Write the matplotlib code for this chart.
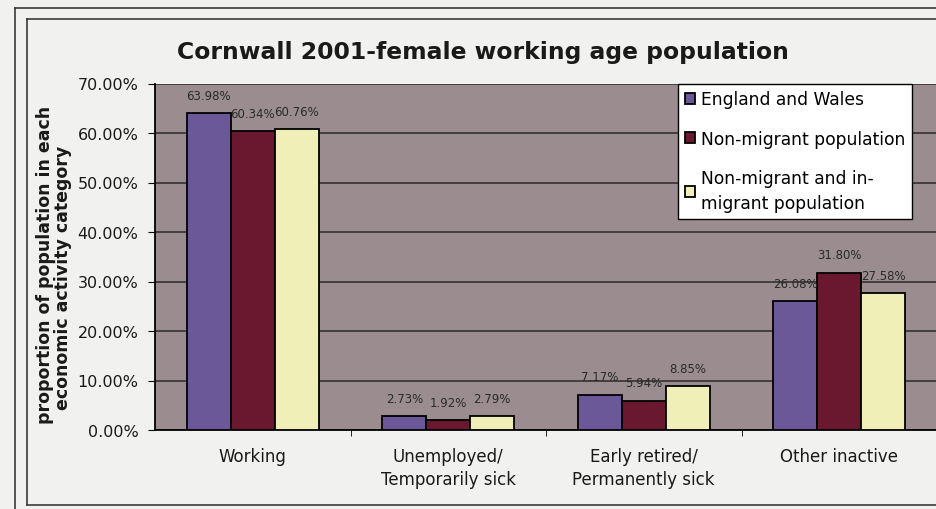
import numpy as np
import matplotlib.pyplot as plt
from matplotlib.lines import Line2D

plt.rcParams['font.family'] = ['DejaVu Sans']

categories = ['Working', 'Unemployed/\nTemporarily sick',
              'Early retired/\nPermanently sick', 'Other inactive']
series_names = ['England and Wales', 'Non-migrant population',
                'Non-migrant and in-\nmigrant population']
england_wales = [63.98, 2.73, 7.17, 26.08]
non_migrant = [60.34, 1.92, 5.94, 31.80]
non_migrant_in_migrant = [60.76, 2.79, 8.85, 27.58]
y_ticks = [0, 10, 20, 30, 40, 50, 60, 70]

colors = ['#6b5898', '#6a182f', '#f0efb8']
series = [england_wales, non_migrant, non_migrant_in_migrant]

fig = plt.figure(figsize=(9.37, 5.10), dpi=100, facecolor='#f1f1ef')
ax = fig.add_axes([155 / 937, 79 / 510, 782 / 937, 346.5 / 510])
ax.set_facecolor('#9a8c8f')

x = np.arange(len(categories))
width = 0.225
for i, (vals, name, col) in enumerate(zip(series, series_names, colors)):
    pos = x + (i - 1) * width
    bars = ax.bar(pos, vals, width, color=col, edgecolor='black', linewidth=1.3,
                  label=name, zorder=3)
    for b, v in zip(bars, vals):
        ax.annotate(f'{v:.2f}%', (b.get_x() + b.get_width() / 2, v),
                    xytext=(0, 8), textcoords='offset points',
                    ha='center', va='bottom', fontsize=8.5, color='#2a2a2a', zorder=4)

ax.set_ylim(0, 70)
ax.set_xlim(-0.5, -0.5 + 782 / 197.5)
ax.set_yticks(y_ticks)
ax.set_yticklabels([f'{t:.2f}%' for t in y_ticks], fontsize=11.5, color='#1a1a1a')
ax.yaxis.grid(True, color='#2e2a2a', linewidth=1.1, zorder=1)
ax.set_axisbelow(True)

ax.set_xticks(x)
ax.set_xticklabels(categories, fontsize=12, color='#1a1a1a', linespacing=1.4)
ax.set_xticks(np.arange(len(categories)) + 0.5, minor=True)
ax.tick_params(axis='x', which='major', length=0, pad=12)
ax.tick_params(axis='x', which='minor', length=4, direction='out', color='black')
ax.tick_params(axis='y', length=5, direction='out', pad=7)

for side in ['top', 'right']:
    ax.spines[side].set_visible(False)
ax.spines['left'].set_linewidth(1.3)
ax.spines['bottom'].set_linewidth(1.3)

leg = ax.legend(loc='upper left', bbox_to_anchor=(0.669, 1.0), fontsize=12.3,
                frameon=True, fancybox=False, edgecolor='black', framealpha=1,
                facecolor='white', handlelength=0.6, handleheight=0.6,
                handletextpad=0.35, labelspacing=1.25, borderpad=0.4,
                borderaxespad=0)
leg.get_frame().set_linewidth(1.0)
leg.get_texts()[2].set_linespacing(1.5)

fig.text(483 / 937, 1 - 52 / 510, 'Cornwall 2001-female working age population',
         ha='center', va='center', fontsize=16.9, fontweight='bold', color='#1a1a1a')

# two-line y axis title, each line placed separately
fig.text(45 / 937, 1 - 265 / 510, 'proportion of population in each',
         rotation=90, ha='center', va='center', fontsize=12.5, fontweight='bold',
         color='#1a1a1a')
fig.text(63 / 937, 1 - 278 / 510, 'economic activity category',
         rotation=90, ha='center', va='center', fontsize=12.5, fontweight='bold',
         color='#1a1a1a')

# double border frame around the chart
for lx, ty, by in [(15, 9, 512), (27, 20, 506)]:
    fig.add_artist(Line2D([lx / 937, lx / 937], [1 - ty / 510, 1 - by / 510],
                          transform=fig.transFigure, color='#3a3a3a', lw=1.2))
    fig.add_artist(Line2D([lx / 937, 1.01], [1 - ty / 510, 1 - ty / 510],
                          transform=fig.transFigure, color='#3a3a3a', lw=1.2))
    fig.add_artist(Line2D([lx / 937, 1.01], [1 - by / 510, 1 - by / 510],
                          transform=fig.transFigure, color='#3a3a3a', lw=1.2))

fig.savefig('out.png', dpi=100, facecolor=fig.get_facecolor())
